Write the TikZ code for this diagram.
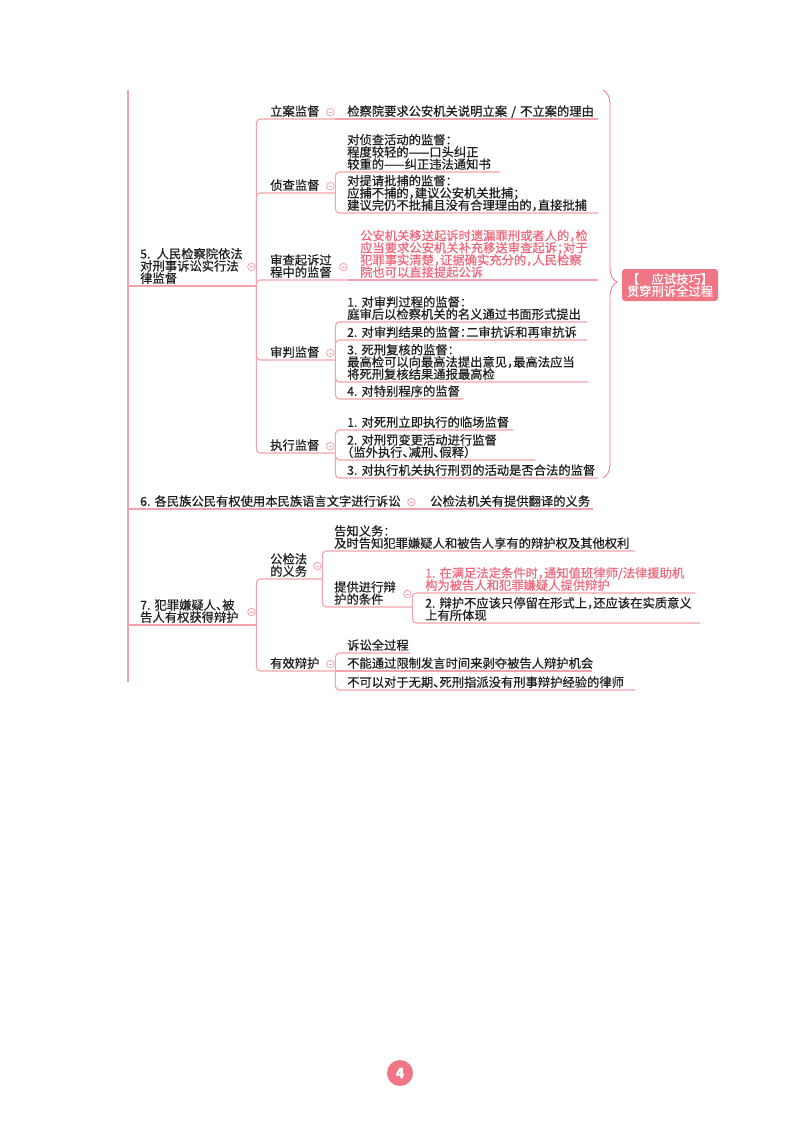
\documentclass[tikz,border=0pt]{standalone}
\usepackage{fontspec}
\setmainfont{Noto Sans CJK SC}[CharacterWidth=AlternateHalf, FakeBold=0.5]
\usetikzlibrary{decorations.pathreplacing}
\definecolor{branchpink}{HTML}{F2A3AD}
\definecolor{notered}{HTML}{F0677A}
\definecolor{tagpink}{HTML}{F07686}
\definecolor{inkgray}{HTML}{1E1E1E}
\newcommand{\mapfont}{\fontsize{12.3}{12.2}\selectfont\lineskiplimit=-4pt\relax}

\begin{document}
\begin{tikzpicture}[
  x=1pt, y=-1pt,
  font=\mapfont,
  topic/.style={
    anchor=south west,
    inner sep=0pt,
    text width=#1pt,
    align=left,
    text=inkgray,
    execute at end node={\rule[-3pt]{0pt}{0pt}}
  },
  note/.style={topic=#1, text=notered},
  branch/.style={draw=branchpink, line width=1.1pt, rounded corners=4pt},
  fold/.style={
    circle, draw=branchpink, fill=white, line width=0.8pt,
    minimum size=7.5pt, inner sep=0pt,
    path picture={\draw[branchpink, line width=0.8pt]
      ([xshift=-1.8pt]path picture bounding box.center) -- ([xshift=1.8pt]path picture bounding box.center);}
  },
  hintbox/.style={
    fill=tagpink, rounded corners=3pt, text=white,
    minimum width=96pt, minimum height=32pt, inner sep=2pt, align=center
  },
  pagebadge/.style={circle, fill=tagpink, text=white, minimum size=26pt, inner sep=0pt,
    font={\fontsize{14}{14}\selectfont\bfseries}}
]

  \fill[white] (0,0) rectangle (800,1124);
  \useasboundingbox (0,0) rectangle (800,1124);

  % Spine of the map (root lies on an earlier page)
  \coordinate (spinetop) at (128,90);
  \coordinate (spinebot) at (128,682);

  % 5. Procuratorial supervision
  \node[topic=116] (sup) at (140,286) {5. 人民检察院依法\\对刑事诉讼实行法\\律监督};
  \node[topic=65] (filing) at (270,119) {立案监督};
  \node[topic=251] (filingx) at (347,119) {检察院要求公安机关说明立案 / 不立案的理由};
  \node[topic=65] (investig) at (270,193) {侦查监督};
  \node[topic=153] (investig1) at (347,172) {对侦查活动的监督：\\程度较轻的——口头纠正\\较重的——纠正违法通知书};
  \node[topic=251] (investig2) at (347,213) {对提请批捕的监督：\\应捕不捕的，建议公安机关批捕；\\建议完仍不批捕且没有合理理由的，直接批捕};
  \node[topic=78] (prosec) at (270,280) {审查起诉过\\程中的监督};
  \node[note=238] (prosecx) at (360,280) {公安机关移送起诉时遗漏罪刑或者人的，检\\应当要求公安机关补充移送审查起诉；对于\\犯罪事实清楚，证据确实充分的，人民检察\\院也可以直接提起公诉};
  \node[topic=65] (trial) at (270,360) {审判监督};
  \node[topic=240] (trial1) at (347,322) {1.~对审判过程的监督：\\庭审后以检察机关的名义通过书面形式提出};
  \node[topic=240] (trial2) at (347,340) {2.~对审判结果的监督：二审抗诉和再审抗诉};
  \node[topic=241] (trial3) at (347,382) {3.~死刑复核的监督：\\最高检可以向最高法提出意见，最高法应当\\将死刑复核结果通报最高检};
  \node[topic=116] (trial4) at (347,399) {4.~对特别程序的监督};
  \node[topic=65] (exec) at (270,453) {执行监督};
  \node[topic=166] (exec1) at (347,430) {1.~对死刑立即执行的临场监督};
  \node[topic=188] (exec2) at (347,460) {2.~对刑罚变更活动进行监督\\（监外执行、减刑、假释）};
  \node[topic=251] (exec3) at (347,478) {3.~对执行机关执行刑罚的活动是否合法的监督};

  % Brace and exam hint
  \coordinate (bracetop) at (603,90);
  \coordinate (bracebot) at (603,478);
  \node[hintbox] (hint) at (670,285) {【　应试技巧】\\贯穿刑诉全过程};

  % 6. Language right
  \node[topic=276] (lang) at (140,509) {6.~各民族公民有权使用本民族语言文字进行诉讼};
  \node[topic=163] (langx) at (430,509) {公检法机关有提供翻译的义务};

  % 7. Right to defense
  \node[topic=116] (defense) at (140,625) {7.~犯罪嫌疑人、被\\告人有权获得辩护};
  \node[topic=52] (duty) at (270,579) {公检法\\的义务};
  \node[topic=301] (notify) at (334,551) {告知义务：\\及时告知犯罪嫌疑人和被告人享有的辩护权及其他权利};
  \node[topic=78] (cond) at (334,607) {提供进行辩\\护的条件};
  \node[note=270] (cond1) at (425,593) {1.~在满足法定条件时，通知值班律师/法律援助机\\构为被告人和犯罪嫌疑人提供辩护};
  \node[topic=275] (cond2) at (425,623) {2.~辩护不应该只停留在形式上，还应该在实质意义\\上有所体现};
  \node[topic=65] (effective) at (270,671) {有效辩护};
  \node[topic=63] (eff1) at (347,653) {诉讼全过程};
  \node[topic=245] (eff2) at (347,671) {不能通过限制发言时间来剥夺被告人辩护机会};
  \node[topic=288] (eff3) at (347,690) {不可以对于无期、死刑指派没有刑事辩护经验的律师};

  % Page number
  \node[pagebadge] (pageno) at (400,1073) {4};

  % Branches
  \draw[branch] (spinetop) -- (spinebot);
  \foreach \t in {sup,lang,defense}
    \draw[branch] (spinetop |- \t.south) -- (\t.south east);
  \foreach \c in {filing,investig,prosec,trial,exec}
    \draw[branch] (sup.south east) |- (\c.south east);
  \draw[branch] (filing.south east) -- (filingx.south east);
  \foreach \c in {investig1,investig2}
    \draw[branch] (investig.south east) |- (\c.south east);
  \draw[branch] (prosec.south east) -- (prosecx.south east);
  \foreach \c in {trial1,trial2,trial3,trial4}
    \draw[branch] (trial.south east) |- (\c.south east);
  \foreach \c in {exec1,exec2,exec3}
    \draw[branch] (exec.south east) |- (\c.south east);
  \draw[branch] (lang.south east) -- (langx.south east);
  \foreach \c in {duty,effective}
    \draw[branch] (defense.south east) |- (\c.south east);
  \foreach \c in {notify,cond}
    \draw[branch] (duty.south east) |- (\c.south east);
  \foreach \c in {cond1,cond2}
    \draw[branch] (cond.south east) |- (\c.south east);
  \draw[branch] (effective.south east) |- (eff1.south east);
  \draw[branch] (effective.south east) -- (eff2.south east);
  \draw[branch] (effective.south east) |- (eff3.south east);

  \draw[draw=tagpink, line width=0.8pt, decorate, decoration={brace, amplitude=14pt, aspect=0.495}]
    (bracetop) -- (bracebot);

  % Fold markers
  \foreach \n in {sup,filing,investig,prosec,trial,exec,lang,defense,duty,cond,effective}
    \node[fold] (\n-fold) at ([xshift=-5pt]\n.east) {};

\end{tikzpicture}
\end{document}
